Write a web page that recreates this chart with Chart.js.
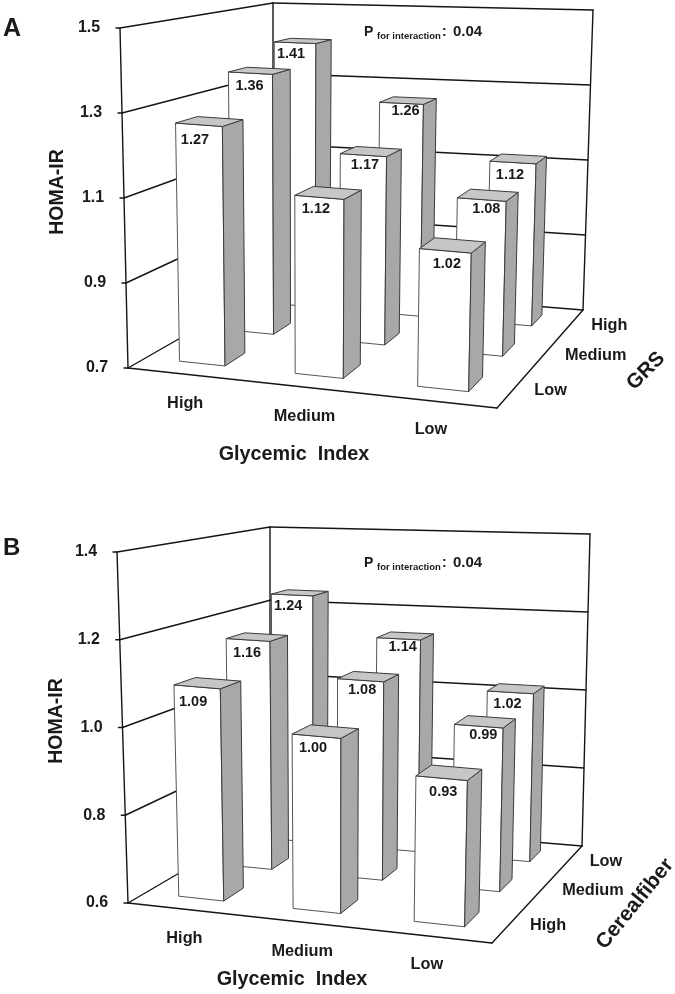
<!DOCTYPE html>
<html lang="en">

<head>
    <meta charset="UTF-8">
    <title>HOMA-IR by Glycemic Index</title>
    <script src="https://cdn.jsdelivr.net/npm/chart.js"></script>
    <style>
        body { margin: 0; background: #fff; }
        canvas { display: block; }
    </style>
</head>

<body>
    <canvas id="graficoA" width="675" height="497"></canvas>
    <canvas id="graficoB" width="675" height="497"></canvas>
</body>

</html>
<script>
    // values, rows go from the front of the box to the back
    const giLabels = ['High', 'Medium', 'Low']

    const grsRows = ['Low', 'Medium', 'High']
    const grsLow = [1.27, 1.12, 1.02]
    const grsMedium = [1.36, 1.17, 1.08]
    const grsHigh = [1.41, 1.26, 1.12]
    const ticksA = [0.7, 0.9, 1.1, 1.3, 1.5]

    const fiberRows = ['High', 'Medium', 'Low']
    const fiberHigh = [1.09, 1.00, 0.93]
    const fiberMedium = [1.16, 1.08, 0.99]
    const fiberLow = [1.24, 1.14, 1.02]
    const ticksB = [0.6, 0.8, 1.0, 1.2, 1.4]

    const pValue = '0.04'

    // perspective of the box
    const font = '"Liberation Sans", Arial, sans-serif'
    const warpX = 1.09
    const warpZ = 0.795
    const barHalfWidth = 0.2
    const barHalfDepth = 0.065
    const labelNudge = [
        [[-4, 15], [-3.5, 12], [1.5, 13.5]],
        [[-1, 13], [1.5, 9.5], [4.5, 9]],
        [[-4, 11], [4, 8], [-3, 12]],
    ]

    function lerp(a, b, t) {
        return [a[0] + (b[0] - a[0]) * t, a[1] + (b[1] - a[1]) * t]
    }

    function project(box, u, v, w) {
        const bottom = lerp(lerp(box.fl, box.fr, u), lerp(box.bl, box.br, u), w)
        const top = lerp(lerp(box.flt, box.frt, u), lerp(box.blt, box.brt, u), w)
        return lerp(bottom, top, v)
    }

    function warp(t, k) {
        return t / (t + k * (1 - t))
    }

    function poly(ctx, pts, fill) {
        ctx.beginPath()
        pts.forEach((p, i) => i ? ctx.lineTo(p[0], p[1]) : ctx.moveTo(p[0], p[1]))
        ctx.closePath()
        ctx.fillStyle = fill
        ctx.fill()
        ctx.stroke()
    }

    function line(ctx, a, b) {
        ctx.beginPath()
        ctx.moveTo(a[0], a[1])
        ctx.lineTo(b[0], b[1])
        ctx.stroke()
    }

    function text(ctx, str, x, y, size, align, angle) {
        ctx.save()
        ctx.translate(x, y)
        if (angle) ctx.rotate(angle * Math.PI / 180)
        ctx.font = 'bold ' + size + 'px ' + font
        ctx.fillStyle = '#1a1a1a'
        ctx.textAlign = align || 'center'
        ctx.textBaseline = 'middle'
        ctx.fillText(str, 0, 0)
        ctx.restore()
    }

    const box3d = {
        id: 'box3d',
        beforeDatasetsDraw(chart, args, o) {
            const ctx = chart.ctx
            const box = o.box
            const yScale = chart.scales.y

            ctx.save()
            ctx.lineCap = 'round'
            ctx.strokeStyle = '#151515'
            ctx.lineWidth = 1.4

            // gridlines on both walls, tick marks and tick labels
            yScale.ticks.forEach(t => {
                const v = (yScale.bottom - yScale.getPixelForValue(t.value)) / (yScale.bottom - yScale.top)
                const a = project(box, 0, v, 0)
                const b = project(box, 0, v, 1)
                const c = project(box, 1, v, 1)
                line(ctx, a, b)
                line(ctx, b, c)
                line(ctx, [a[0] - 4, a[1]], a)
                text(ctx, t.value.toFixed(1), a[0] - 31, a[1], 16)
            })
            line(ctx, box.fl, box.flt)
            line(ctx, box.bl, box.blt)
            line(ctx, box.br, box.brt)
            line(ctx, box.fl, box.fr)
            line(ctx, box.fr, box.br)

            // category labels along the floor edges
            giLabels.forEach((name, i) => {
                const p = project(box, warp((i + 0.5) / 3, warpX), 0, 0)
                text(ctx, name, p[0], p[1] + 29, 16.3)
            })
            o.rows.forEach((name, r) => {
                const p = project(box, 1, 0, warp((r + 0.5) / 3, warpZ))
                text(ctx, name, p[0] + 20, p[1] + 2, 16.3, 'left')
            })

            o.notes.forEach(n => text(ctx, n.str, n.x, n.y, n.size, n.align, n.angle))
            ctx.restore()
        },
        beforeDatasetDraw(chart, args, o) {
            const ctx = chart.ctx
            const box = o.box
            const area = chart.chartArea
            const xScale = chart.scales.x
            const r = args.index
            const meta = chart.getDatasetMeta(r)
            const z = (r + 0.5) / 3
            const w0 = warp(z - barHalfDepth, warpZ)
            const w1 = warp(z + barHalfDepth, warpZ)
            const toU = px => warp((px - area.left) / (area.right - area.left), warpX)

            ctx.save()
            ctx.lineJoin = 'round'
            meta.data.forEach((el, i) => {
                const raw = chart.data.datasets[r].data[i]
                const u0 = toU(xScale.getPixelForValue(raw.x - barHalfWidth))
                const u1 = toU(xScale.getPixelForValue(raw.x + barHalfWidth))
                const v = (area.bottom - el.y) / (area.bottom - area.top)

                const fbl = project(box, u0, 0, w0)
                const fbr = project(box, u1, 0, w0)
                const ftl = project(box, u0, v, w0)
                const ftr = project(box, u1, v, w0)
                const bbr = project(box, u1, 0, w1)
                const btl = project(box, u0, v, w1)
                const btr = project(box, u1, v, w1)

                ctx.lineWidth = 1
                ctx.strokeStyle = '#555'
                poly(ctx, [fbl, fbr, ftr, ftl], '#fff')
                ctx.strokeStyle = '#3a3a3a'
                poly(ctx, [fbr, bbr, btr, ftr], '#a8a8a8')
                poly(ctx, [ftl, ftr, btr, btl], '#c6c6c6')

                const nudge = labelNudge[r][i]
                text(ctx, raw.y.toFixed(2), (ftl[0] + ftr[0]) / 2 + nudge[0], (ftl[1] + ftr[1]) / 2 + nudge[1], 14.5)
            })
            ctx.restore()
        },
    }

    function rowData(values) {
        return values.map((v, i) => ({ x: i + 0.5, y: v }))
    }

    function drawPanel(canvas, o) {
        const area = o.box
        return new Chart(canvas, {
            type: 'scatter',
            data: {
                // Chart.js paints the last dataset first, so the back row goes under the front one
                datasets: o.rows.map((name, r) => ({
                    label: name,
                    data: rowData(o.values[r]),
                    pointRadius: 0,
                    showLine: false,
                })),
            },
            options: {
                responsive: false,
                animation: false,
                events: [],
                layout: {
                    padding: {
                        left: area.fl[0],
                        right: canvas.width - area.fr[0],
                        top: area.flt[1],
                        bottom: canvas.height - area.fl[1],
                    },
                },
                scales: {
                    x: { display: false, min: 0, max: giLabels.length },
                    y: {
                        display: false,
                        min: o.ticks[0],
                        max: o.ticks[o.ticks.length - 1],
                        afterBuildTicks: s => { s.ticks = o.ticks.map(v => ({ value: v })) },
                    },
                },
                plugins: {
                    legend: { display: false },
                    tooltip: { enabled: false },
                    box3d: { box: o.box, rows: o.rows, notes: o.notes },
                },
            },
            plugins: [box3d],
        })
    }

    function pNotes(y) {
        return [
            { str: 'P', x: 364, y: y, size: 14, align: 'left' },
            { str: 'for interaction', x: 377, y: y + 4, size: 9.5, align: 'left' },
            { str: ':', x: 442, y: y, size: 14, align: 'left' },
            { str: pValue, x: 453, y: y, size: 15, align: 'left' },
        ]
    }

    drawPanel(graficoA, {
        rows: grsRows,
        values: [grsLow, grsMedium, grsHigh],
        ticks: ticksA,
        box: {
            fl: [128, 368], fr: [497, 408], bl: [273, 285], br: [583, 310],
            flt: [120, 28], frt: [505, 53], blt: [273, 3], brt: [593, 10],
        },
        notes: [
            { str: 'A', x: 3, y: 29, size: 25, align: 'left' },
            { str: 'HOMA-IR', x: 58, y: 192, size: 19.5, angle: -90 },
            { str: 'Glycemic  Index', x: 294, y: 455, size: 19.8 },
            { str: 'GRS', x: 646, y: 371, size: 20.5, angle: -45 },
        ].concat(pNotes(32)),
    })

    drawPanel(graficoB, {
        rows: fiberRows,
        values: [fiberHigh, fiberMedium, fiberLow],
        ticks: ticksB,
        box: {
            fl: [128, 406], fr: [492, 446], bl: [270, 323], br: [582, 349],
            flt: [117, 55], frt: [501, 84], blt: [270, 30], brt: [590, 37],
        },
        notes: [
            { str: 'B', x: 3, y: 51.5, size: 24, align: 'left' },
            { str: 'HOMA-IR', x: 57, y: 224, size: 19.5, angle: -90 },
            { str: 'Glycemic  Index', x: 292, y: 483, size: 19.8 },
            { str: 'Cerealfiber', x: 635, y: 407, size: 21, angle: -51 },
        ].concat(pNotes(66)),
    })
</script>
